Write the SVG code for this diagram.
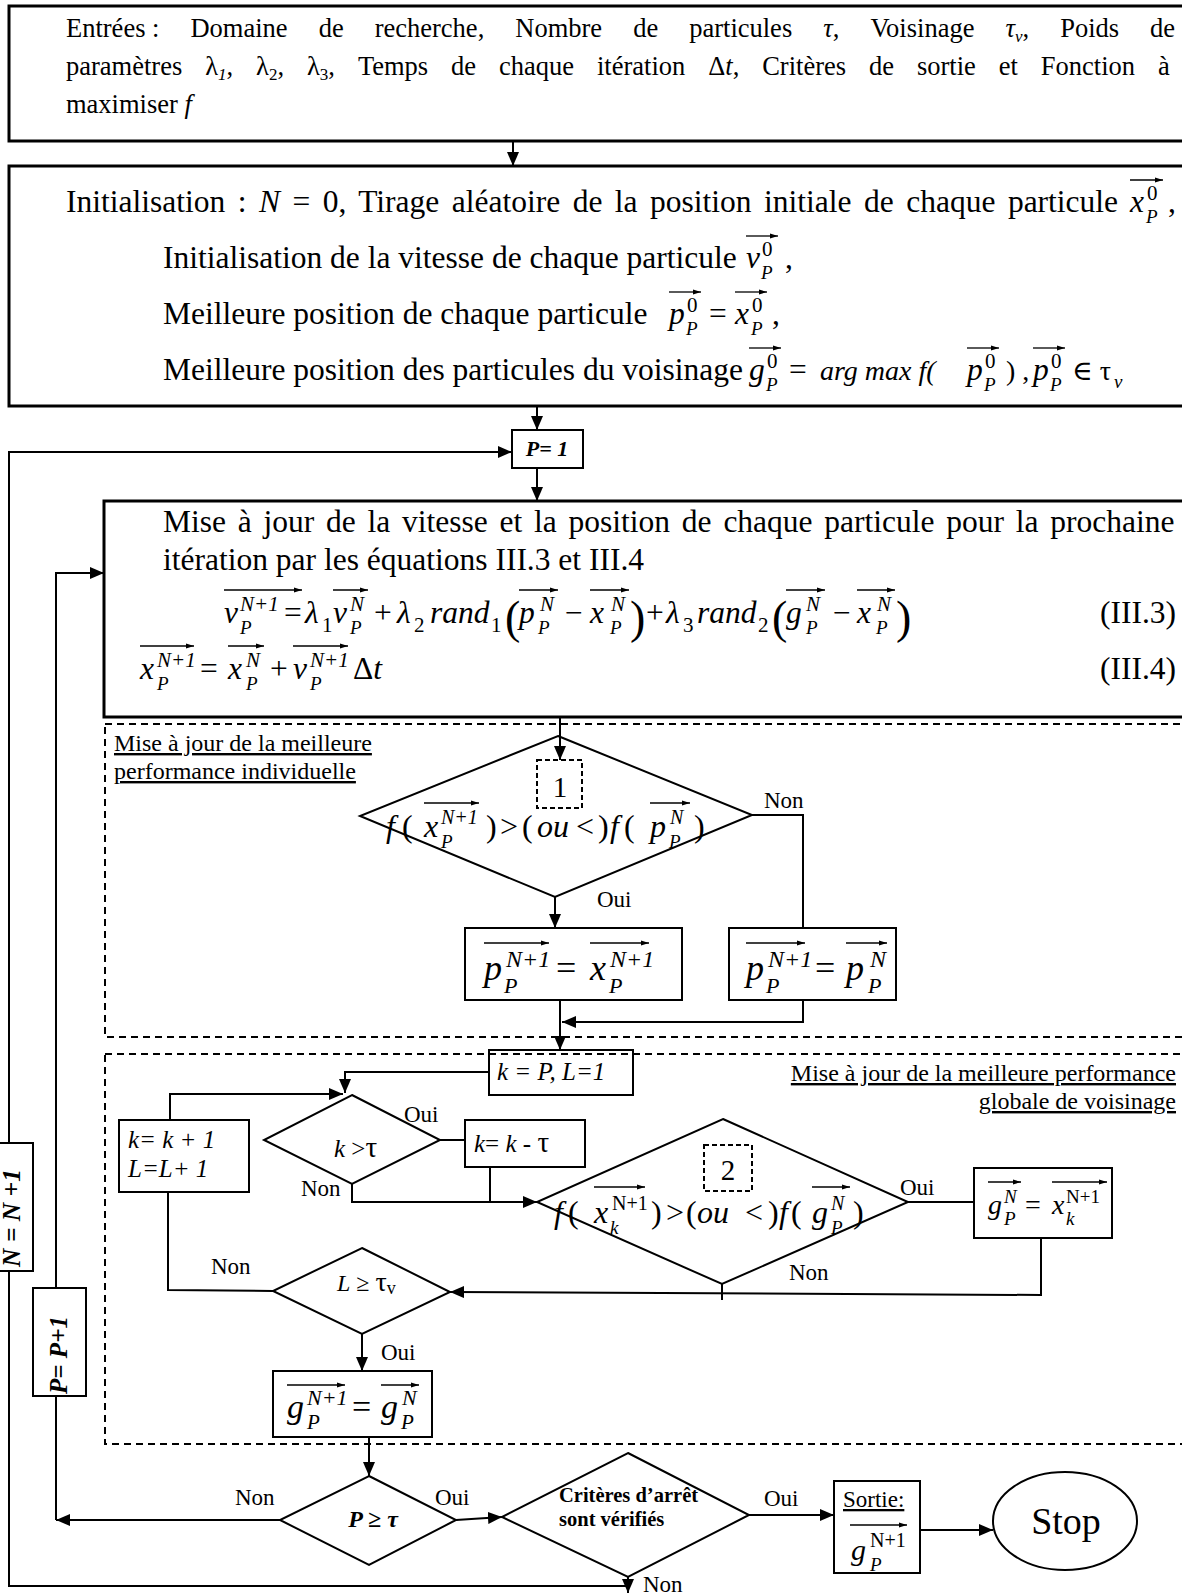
<svg xmlns="http://www.w3.org/2000/svg" width="1182" height="1594" viewBox="0 0 1182 1594">
<defs>
<style>
text{font-family:"Liberation Serif","DejaVu Serif",serif;fill:#000}
.i{font-style:italic}
.b{font-weight:bold}
.bx{fill:#fff;stroke:#000;stroke-width:2}
.bk{fill:#fff;stroke:#000;stroke-width:3}
.dm{fill:none;stroke:#000;stroke-width:2}
.dz{fill:none;stroke:#000;stroke-width:2;stroke-dasharray:7 5}
.ds{fill:none;stroke:#000;stroke-width:2;stroke-dasharray:5 3}
.c{fill:none;stroke:#000;stroke-width:2}
.a{marker-end:url(#ah)}
.v{stroke:#000;stroke-width:1.3;marker-end:url(#va)}
.lb{font-size:23px}
.cl{font-size:24px;text-decoration:underline}
.t1{font-size:26.5px}
.t2{font-size:31.5px}
.sp{font-size:21px}
.sb{font-size:19px;font-style:italic}
.k{font-size:25px}
.d{font-size:32px}
</style>
<marker id="ah" markerUnits="userSpaceOnUse" markerWidth="14" markerHeight="12" refX="14" refY="6" orient="auto"><path d="M0,0 L14,6 L0,12 z"/></marker>
<marker id="va" markerUnits="userSpaceOnUse" markerWidth="8" markerHeight="6" refX="8" refY="3" orient="auto"><path d="M0,0.5 L8,3 L0,5.5 z"/></marker>
</defs>

<g id="connectors">
<line class="c a" x1="513" y1="141" x2="513" y2="166"/>
<line class="c a" x1="537" y1="406" x2="537" y2="430"/>
<line class="c a" x1="537" y1="468" x2="537" y2="501"/>
<line class="c a" x1="628" y1="1577" x2="628" y2="1593"/>
<polyline class="c a" points="628,1586 9,1586 9,452 512,452"/>
<line class="c a" x1="280" y1="1520" x2="56" y2="1520"/>
<polyline class="c a" points="56,1520 56,573 104,573"/>
<line class="c a" x1="560" y1="717" x2="560" y2="760"/>
<polyline class="c" points="752,815 803,815 803,928"/>
<line class="c a" x1="555" y1="897" x2="555" y2="928"/>
<line class="c a" x1="560" y1="1000" x2="560" y2="1050"/>
<polyline class="c a" points="803,1000 803,1022 562,1022"/>
<polyline class="c a" points="489,1072 345,1072 345,1093"/>
<line class="c" x1="440" y1="1140" x2="465" y2="1140"/>
<line class="c" x1="490" y1="1167" x2="490" y2="1202"/>
<polyline class="c a" points="352,1184 352,1202 537,1202"/>
<line class="c" x1="908" y1="1202" x2="974" y2="1202"/>
<polyline class="c a" points="1041,1238 1041,1295 450,1292"/>
<line class="c" x1="722" y1="1284" x2="722" y2="1300"/>
<polyline class="c" points="168,1192 168,1290 273,1291"/>
<polyline class="c a" points="170,1120 170,1094 343,1094"/>
<line class="c a" x1="362" y1="1334" x2="362" y2="1371"/>
<line class="c a" x1="369" y1="1437" x2="369" y2="1476"/>
<line class="c a" x1="456" y1="1520" x2="502" y2="1517"/>
<line class="c a" x1="749" y1="1515" x2="834" y2="1515"/>
<line class="c a" x1="920" y1="1530" x2="993" y2="1530"/>
</g>

<g id="entrees">
<rect class="bk" x="9" y="6" width="1190" height="135"/>
<text class="t1" x="66" y="37" word-spacing="24.4"><tspan word-spacing="0">Entrées :</tspan> Domaine de recherche, Nombre de particules <tspan class="i">τ</tspan>, Voisinage <tspan class="i">τ</tspan><tspan class="i" font-size="17" dy="5">v</tspan><tspan dy="-5">, Poids de</tspan></text>
<text class="t1" x="66" y="75" word-spacing="16.3">paramètres λ<tspan class="i" font-size="17" dy="5">1</tspan><tspan dy="-5">, λ</tspan><tspan font-size="17" dy="5">2</tspan><tspan dy="-5">, λ</tspan><tspan font-size="17" dy="5">3</tspan><tspan dy="-5">, Temps de chaque itération Δ</tspan><tspan class="i">t</tspan>, Critères de sortie et Fonction à</text>
<text class="t1" x="66" y="113">maximiser <tspan class="i">f</tspan></text>
</g>

<g id="init">
<rect class="bk" x="9" y="166" width="1190" height="240"/>
<text class="t2" x="66" y="212" word-spacing="4.6">Initialisation : <tspan class="i">N</tspan> = 0, Tirage aléatoire de la position initiale de chaque particule</text>
<text class="t2 i" x="1130" y="212">x</text><text class="sp" x="1147" y="200">0</text><text class="sb" x="1146" y="223">P</text><line class="v" x1="1130" y1="180" x2="1163" y2="180"/><text class="t2" x="1168" y="212">,</text>
<text class="t2" x="163" y="268">Initialisation de la vitesse de chaque particule</text>
<text class="t2 i" x="746" y="268">v</text><text class="sp" x="762" y="256">0</text><text class="sb" x="761" y="279">P</text><line class="v" x1="746" y1="236" x2="778" y2="236"/><text class="t2" x="785" y="268">,</text>
<text class="t2" x="163" y="324">Meilleure position de chaque particule</text>
<text class="t2 i" x="669" y="324">p</text><text class="sp" x="687" y="312">0</text><text class="sb" x="686" y="335">P</text><line class="v" x1="669" y1="292" x2="701" y2="292"/>
<text class="t2" x="709" y="324">=</text>
<text class="t2 i" x="735" y="324">x</text><text class="sp" x="752" y="312">0</text><text class="sb" x="751" y="335">P</text><line class="v" x1="735" y1="292" x2="767" y2="292"/><text class="t2" x="772" y="324">,</text>
<text class="t2" x="163" y="380">Meilleure position des particules du voisinage</text>
<text class="t2 i" x="749" y="380">g</text><text class="sp" x="767" y="368">0</text><text class="sb" x="766" y="391">P</text><line class="v" x1="749" y1="348" x2="781" y2="348"/>
<text class="t2" x="789" y="380">=</text>
<text class="i" font-size="28" x="820" y="380">arg max f(</text>
<text class="t2 i" x="967" y="380">p</text><text class="sp" x="985" y="368">0</text><text class="sb" x="984" y="391">P</text><line class="v" x1="967" y1="348" x2="999" y2="348"/>
<text font-size="28" x="1006" y="380">) ,</text>
<text class="t2 i" x="1033" y="380">p</text><text class="sp" x="1051" y="368">0</text><text class="sb" x="1050" y="391">P</text><line class="v" x1="1033" y1="348" x2="1065" y2="348"/>
<text font-size="28" x="1072" y="380">∈ τ</text><text class="sb" font-size="16" x="1114" y="388">v</text>
</g>

<g id="p1">
<rect class="bx" x="512" y="430" width="71" height="38"/>
<text class="b i" font-size="22" x="547" y="456" text-anchor="middle">P= 1</text>
</g>

<g id="maj">
<rect class="bk" x="104" y="501" width="1090" height="216"/>
<text class="t2" x="163" y="532" word-spacing="3.9">Mise à jour de la vitesse et la position de chaque particule pour la prochaine</text>
<text class="t2" x="163" y="570">itération par les équations III.3 et III.4</text>
<text class="t2 i" x="224" y="623">v</text><text class="sp i" x="240" y="611">N+1</text><text class="sb" x="240" y="634">P</text><line class="v" x1="224" y1="590" x2="302" y2="590"/>
<text class="t2" x="284" y="623">=</text>
<text class="t2 i" x="305" y="623">λ</text><text class="sp" x="322" y="632">1</text>
<text class="t2 i" x="333" y="623">v</text><text class="sp i" x="350" y="611">N</text><text class="sb" x="350" y="634">P</text><line class="v" x1="333" y1="590" x2="368" y2="590"/>
<text class="t2" x="374" y="623">+</text>
<text class="t2 i" x="397" y="623">λ</text><text class="sp" x="414" y="632">2</text>
<text class="t2 i" x="430" y="623">rand</text><text class="sp" x="491" y="632">1</text>
<text font-size="46" x="505" y="633">(</text>
<text class="t2 i" x="519" y="623">p</text><text class="sp i" x="540" y="611">N</text><text class="sb" x="538" y="634">P</text><line class="v" x1="519" y1="590" x2="558" y2="590"/>
<text class="t2" x="565" y="623">−</text>
<text class="t2 i" x="590" y="623">x</text><text class="sp i" x="611" y="611">N</text><text class="sb" x="610" y="634">P</text><line class="v" x1="590" y1="590" x2="629" y2="590"/>
<text font-size="46" x="630" y="633">)</text>
<text class="t2" x="646" y="623">+</text>
<text class="t2 i" x="666" y="623">λ</text><text class="sp" x="683" y="632">3</text>
<text class="t2 i" x="697" y="623">rand</text><text class="sp" x="758" y="632">2</text>
<text font-size="46" x="772" y="633">(</text>
<text class="t2 i" x="786" y="623">g</text><text class="sp i" x="806" y="611">N</text><text class="sb" x="806" y="634">P</text><line class="v" x1="786" y1="590" x2="825" y2="590"/>
<text class="t2" x="833" y="623">−</text>
<text class="t2 i" x="857" y="623">x</text><text class="sp i" x="877" y="611">N</text><text class="sb" x="876" y="634">P</text><line class="v" x1="857" y1="590" x2="895" y2="590"/>
<text font-size="46" x="896" y="633">)</text>
<text class="t2" x="1176" y="623" text-anchor="end">(III.3)</text>
<text class="t2 i" x="140" y="679">x</text><text class="sp i" x="157" y="667">N+1</text><text class="sb" x="157" y="690">P</text><line class="v" x1="140" y1="646" x2="194" y2="646"/>
<text class="t2" x="200" y="679">=</text>
<text class="t2 i" x="228" y="679">x</text><text class="sp i" x="246" y="667">N</text><text class="sb" x="246" y="690">P</text><line class="v" x1="228" y1="646" x2="264" y2="646"/>
<text class="t2" x="270" y="679">+</text>
<text class="t2 i" x="293" y="679">v</text><text class="sp i" x="310" y="667">N+1</text><text class="sb" x="310" y="690">P</text><line class="v" x1="293" y1="646" x2="348" y2="646"/>
<text class="t2" x="353" y="679">Δ<tspan class="i">t</tspan></text>
<text class="t2" x="1176" y="679" text-anchor="end">(III.4)</text>
</g>

<g id="decision1">
<polygon class="dm" points="558,736 752,815 555,897 360,816"/>
<rect class="ds" x="537" y="760" width="45" height="48"/>
<text font-size="29" x="560" y="797" text-anchor="middle">1</text>
<text class="d i" x="386" y="837">f</text><text class="d" x="402" y="837">(</text>
<text class="d i" x="424" y="837">x</text><text class="i" font-size="20" x="441" y="824">N+1</text><text class="sb" x="441" y="848">P</text><line class="v" x1="424" y1="803" x2="479" y2="803"/>
<text class="d" x="486" y="837">)</text>
<text class="d" x="500" y="837">&gt;</text>
<text class="d" x="522" y="837">(</text>
<text class="d i" x="537" y="837">ou</text>
<text class="d" x="576" y="837">&lt;</text>
<text class="d" x="598" y="837">)</text>
<text class="d i" x="610" y="837">f</text><text class="d" x="624" y="837">(</text>
<text class="d i" x="650" y="837">p</text><text class="i" font-size="20" x="670" y="824">N</text><text class="sb" x="669" y="848">P</text><line class="v" x1="650" y1="803" x2="690" y2="803"/>
<text class="d" x="694" y="837">)</text>
</g>

<g id="pbox1">
<rect class="bx" x="465" y="928" width="217" height="72"/>
<text class="i" font-size="36" x="484" y="980">p</text><text class="i" font-size="24" x="506" y="967">N+1</text><text class="i" font-size="22" x="504" y="993">P</text><line class="v" x1="484" y1="943" x2="549" y2="943"/>
<text font-size="36" x="556" y="980">=</text>
<text class="i" font-size="36" x="590" y="980">x</text><text class="i" font-size="24" x="610" y="967">N+1</text><text class="i" font-size="22" x="609" y="993">P</text><line class="v" x1="590" y1="943" x2="649" y2="943"/>
</g>

<g id="pbox2">
<rect class="bx" x="729" y="928" width="167" height="72"/>
<text class="i" font-size="36" x="746" y="980">p</text><text class="i" font-size="24" x="768" y="967">N+1</text><text class="i" font-size="22" x="766" y="993">P</text><line class="v" x1="746" y1="943" x2="805" y2="943"/>
<text font-size="36" x="815" y="980">=</text>
<text class="i" font-size="36" x="846" y="980">p</text><text class="i" font-size="24" x="870" y="967">N</text><text class="i" font-size="22" x="868" y="993">P</text><line class="v" x1="846" y1="943" x2="887" y2="943"/>
</g>

<g id="kP">
<rect class="bx" x="489" y="1050" width="144" height="45"/>
<text class="i k" x="497" y="1080">k = P, L=1</text>
</g>

<g id="ktau">
<polygon class="dm" points="352,1095 440,1140 352,1184 264,1140"/>
<text class="k" x="334" y="1157"><tspan class="i">k</tspan> &gt;<tspan font-size="29">τ</tspan></text>
</g>

<g id="kminus">
<rect class="bx" x="465" y="1120" width="120" height="47"/>
<text class="k" x="474" y="1152"><tspan class="i">k</tspan>= <tspan class="i">k</tspan> - <tspan font-size="29">τ</tspan></text>
</g>

<g id="kplus">
<rect class="bx" x="119" y="1120" width="130" height="72"/>
<text class="i k" x="128" y="1148">k= k + 1</text>
<text class="i k" x="128" y="1177">L=L+ 1</text>
</g>

<g id="decision2">
<polygon class="dm" points="723,1119 908,1202 722,1284 537,1202"/>
<rect class="ds" x="704" y="1145" width="48" height="46"/>
<text font-size="29" x="728" y="1180" text-anchor="middle">2</text>
<text class="d i" x="554" y="1223">f</text><text class="d" x="568" y="1223">(</text>
<text class="d i" x="594" y="1223">x</text><text font-size="20" x="612" y="1210">N+1</text><text class="sb" x="610" y="1234">k</text><line class="v" x1="594" y1="1187" x2="645" y2="1187"/>
<text class="d" x="651" y="1223">)</text>
<text class="d" x="666" y="1223">&gt;</text>
<text class="d" x="686" y="1223">(</text>
<text class="d i" x="697" y="1223">ou</text>
<text class="d" x="745" y="1223">&lt;</text>
<text class="d" x="768" y="1223">)</text>
<text class="d i" x="779" y="1223">f</text><text class="d" x="791" y="1223">(</text>
<text class="d i" x="812" y="1223">g</text><text class="i" font-size="20" x="831" y="1210">N</text><text class="sb" x="831" y="1234">P</text><line class="v" x1="812" y1="1187" x2="850" y2="1187"/>
<text class="d" x="853" y="1223">)</text>
</g>

<g id="gbox">
<rect class="bx" x="974" y="1168" width="138" height="70"/>
<text class="i" font-size="28" x="988" y="1214">g</text><text class="i" font-size="19" x="1004" y="1203">N</text><text class="sb" x="1004" y="1225">P</text><line class="v" x1="988" y1="1182" x2="1021" y2="1182"/>
<text font-size="28" x="1025" y="1214">=</text>
<text class="i" font-size="28" x="1052" y="1214">x</text><text font-size="19" x="1066" y="1203">N+1</text><text class="sb" x="1066" y="1225">k</text><line class="v" x1="1052" y1="1182" x2="1107" y2="1182"/>
</g>

<g id="Ltau">
<polygon class="dm" points="362,1248 450,1292 362,1334 273,1291"/>
<text font-size="24" x="337" y="1291"><tspan class="i">L</tspan> ≥ <tspan font-size="28">τ</tspan><tspan font-size="18" dy="3">v</tspan></text>
</g>

<g id="gbox2">
<rect class="bx" x="273" y="1371" width="159" height="66"/>
<text class="i" font-size="34" x="287" y="1418">g</text><text class="i" font-size="22" x="307" y="1405">N+1</text><text class="i" font-size="21" x="307" y="1429">P</text><line class="v" x1="287" y1="1385" x2="345" y2="1385"/>
<text font-size="34" x="352" y="1418">=</text>
<text class="i" font-size="34" x="381" y="1418">g</text><text class="i" font-size="22" x="402" y="1405">N</text><text class="i" font-size="21" x="401" y="1429">P</text><line class="v" x1="381" y1="1385" x2="419" y2="1385"/>
</g>

<g id="Ptau">
<polygon class="dm" points="369,1476 456,1520 369,1565 280,1520"/>
<text class="b i" font-size="24" x="373" y="1527" text-anchor="middle">P ≥ τ</text>
</g>

<g id="criteres">
<polygon class="dm" points="628,1453 749,1515 628,1577 502,1517"/>
<text class="b" font-size="20.5" x="559" y="1502">Critères d’arrêt</text>
<text class="b" font-size="20.5" x="559" y="1526">sont vérifiés</text>
</g>

<g id="sortie">
<rect class="bx" x="834" y="1481" width="86" height="92"/>
<text x="843" y="1507" font-size="23" text-decoration="underline">Sortie:</text>
<text class="i" font-size="30" x="851" y="1560">g</text><text font-size="20" x="870" y="1547">N+1</text><text class="sb" x="870" y="1571">P</text><line class="v" x1="850" y1="1525" x2="907" y2="1525"/>
</g>

<g id="stop">
<ellipse class="dm" cx="1065" cy="1521" rx="72" ry="49"/>
<text font-size="38" x="1066" y="1534" text-anchor="middle">Stop</text>
</g>

<g id="NN1">
<rect class="bx" x="-13" y="1143" width="46" height="128"/>
<text class="b i" font-size="25.5" x="20" y="1218" text-anchor="middle" transform="rotate(-90 20 1218)">N = N +1</text>
</g>

<g id="PP1">
<rect class="bx" x="33" y="1288" width="53" height="108"/>
<text class="b i" font-size="25" x="67" y="1355" text-anchor="middle" transform="rotate(-90 67 1355)">P= P+1</text>
</g>

<g id="labels">
<text class="lb" x="764" y="808">Non</text>
<text class="lb" x="597" y="907">Oui</text>
<text class="lb" x="404" y="1122">Oui</text>
<text class="lb" x="301" y="1196">Non</text>
<text class="lb" x="900" y="1195">Oui</text>
<text class="lb" x="789" y="1280">Non</text>
<text class="lb" x="211" y="1274">Non</text>
<text class="lb" x="381" y="1360">Oui</text>
<text class="lb" x="235" y="1505">Non</text>
<text class="lb" x="435" y="1505">Oui</text>
<text class="lb" x="764" y="1506">Oui</text>
<text class="lb" x="643" y="1592">Non</text>
</g>

<g id="containers">
<rect class="dz" x="105" y="724" width="1090" height="313"/>
<rect class="dz" x="105" y="1054" width="1090" height="390"/>
<text class="cl" x="114" y="751">Mise à jour de la meilleure</text>
<text class="cl" x="114" y="779">performance individuelle</text>
<text class="cl" x="1176" y="1081" text-anchor="end">Mise à jour de la meilleure performance</text>
<text class="cl" x="1176" y="1109" text-anchor="end">globale de voisinage</text>
</g>
</svg>
